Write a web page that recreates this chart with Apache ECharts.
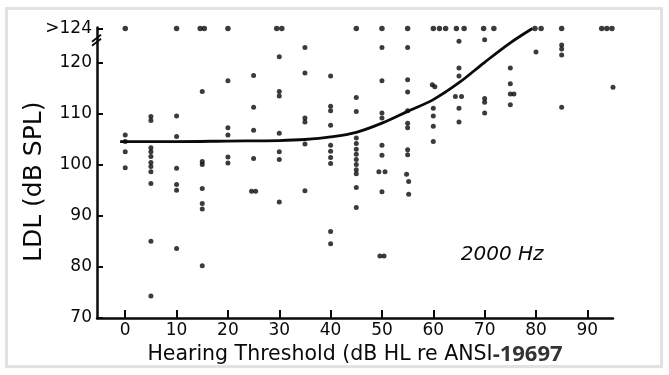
<!DOCTYPE html>
<html><head><meta charset="utf-8">
<script src="https://cdn.jsdelivr.net/npm/echarts@6/dist/echarts.min.js"></script>
<style>
html,body{margin:0;padding:0;background:#fff;}
#frame{position:absolute;left:5px;top:7px;width:658px;height:361px;border:3px solid #e2e2e2;box-sizing:border-box;}
#chart{position:absolute;left:0;top:0;width:669px;height:375px;}
</style></head><body>
<div id="frame"></div><div id="chart"></div>
<script>
// Tick values and labels
const xTickValues = [0, 10, 20, 30, 40, 50, 60, 70, 80, 90, 95];
const xTickLabels = ['0', '10', '20', '30', '40', '50', '60', '70', '80', '90', '>90'];
const yTickValues = [70, 80, 90, 100, 110, 120, 126.6];
const yTickLabels = ['70', '80', '90', '100', '110', '120', '>124'];

// ">124" responses (plotted on the top row)
const TOP = 126.6;
const topRowX = [0, 10, 14.6, 15.4, 20, 29.5, 30.5, 45, 50, 55, 60, 61.2, 62.4, 64.5, 66, 69.8, 71.8, 79.8, 81, 85, 92.8, 93.8, 94.8];

// Individual LDL points [hearing threshold, LDL]
const dotPoints = [
  [0,105.8],[0,104.5],[0,102.5],[0,99.4],
  [5,109.4],[5,108.6],[5,103.3],[5,102.5],[5,101.6],[5,100.4],[5,99.6],[5,98.6],[5,96.3],[5,85.0],[5,74.3],
  [10,109.5],[10,105.5],[10,99.3],[10,96.1],[10,95.0],[10,83.6],
  [15,114.3],[15,100.6],[15,100.0],[15,95.3],[15,92.4],[15,91.3],[15,80.2],
  [20,116.4],[20,107.2],[20,105.8],[20,101.5],[20,100.3],
  [25,117.4],[25,111.2],[25,106.7],[25,101.2],[24.6,94.8],[25.4,94.8],
  [30,121.1],[30,114.3],[30,113.4],[30,106.1],[30,102.5],[30,101.0],[30,92.7],
  [35,122.9],[35,117.9],[35,109.1],[35,108.3],[35,104.0],[35,94.9],
  [40,117.3],[40,111.4],[40,110.5],[40,107.7],[40,103.8],[40,102.6],[40,101.4],[40,100.2],[40,86.9],[40,84.5],
  [45,113.1],[45,110.4],[45,105.2],[45,104.1],[45,103.0],[45,102.0],[45,101.0],[45,100.0],[45,99.0],[45,98.2],[45,95.5],[45,91.6],
  [50,122.9],[50,116.4],[50,110.1],[50,109.1],[50,103.8],[50,101.8],[49.4,98.6],[50.6,98.6],[50,94.7],[49.6,82.1],[50.4,82.1],
  [55,122.9],[55,116.6],[55,114.2],[55,110.5],[55,108.1],[55,107.2],[55,102.9],[55,101.9],[54.8,98.1],[55.2,96.7],[55.2,94.2],
  [59.8,115.6],[60.3,115.2],[60,111.0],[60,109.5],[60,107.5],[60,104.5],
  [65,124.1],[65,118.9],[65,117.3],[64.3,113.3],[65.5,113.3],[65,111.0],[65,108.3],
  [70,124.4],[70,112.9],[70,112.2],[70,110.1],
  [75,118.9],[75,115.8],[75,113.8],[75.7,113.8],[75,111.7],
  [80,122.0],
  [85,123.4],[85,122.6],[85,121.4],[85,111.2],
  [95,115.1]
];

// Fitted curve
const curvePoints = [
  [-1,104.5],[10,104.5],[20,104.6],[30,104.7],[35,104.9],[40,105.4],[45,106.3],[50,108.1],
  [55,110.4],[60,112.7],[65,116.0],[70,120.0],[75,123.8],[79.3,126.6]
];

const topPoints = topRowX.map(x => [x, TOP]);

const chart = echarts.init(document.getElementById('chart'), null, {renderer: 'canvas'});
const ink = '#0a0a0a';
const option = {
  backgroundColor: 'transparent',
  animation: false,
  grid: {left: 97, right: 56, top: 27.5, bottom: 57, containLabel: false},
  xAxis: {
    type: 'value', min: -5.5, max: 95,
    name: '{a|Hearing Threshold (dB HL re ANSI}{b|-19697}',
    nameLocation: 'middle', nameGap: 26, nameMoveOverlap: false,
    nameTextStyle: {
      rich: {
        a: {fontFamily: 'DejaVu Sans', fontSize: 20.5, color: ink},
        b: {fontFamily: 'Open Sans', fontWeight: 'bold', fontSize: 22, color: '#333'}
      }
    },
    axisLine: {show: true, onZero: false, lineStyle: {color: ink, width: 2.5}},
    axisTick: {show: true, inside: false, length: -8, customValues: xTickValues, lineStyle: {color: ink, width: 2}},
    axisLabel: {
      customValues: xTickValues, margin: 4,
      fontFamily: 'DejaVu Sans', fontSize: 17, color: ink,
      formatter: v => xTickLabels[xTickValues.indexOf(v)]
    },
    splitLine: {show: false}
  },
  yAxis: {
    type: 'value', min: 70, max: 126.8,
    name: 'LDL (dB SPL)', nameLocation: 'middle', nameRotate: 90, nameGap: 50, nameMoveOverlap: false,
    nameTextStyle: {fontFamily: 'DejaVu Sans', fontSize: 25, color: ink, padding: [0, 18, 0, 0]},
    axisLine: {show: true, onZero: false, lineStyle: {color: ink, width: 2.5}},
    axisTick: {show: true, inside: false, length: -6, customValues: yTickValues, lineStyle: {color: ink, width: 2}},
    axisLabel: {
      customValues: yTickValues, margin: 5,
      fontFamily: 'DejaVu Sans', fontSize: 17, color: ink,
      formatter: v => yTickLabels[yTickValues.indexOf(v)]
    },
    splitLine: {show: false}
  },
  series: [
    {
      type: 'line', data: curvePoints, smooth: 0.35, showSymbol: false, clip: false,
      lineStyle: {color: ink, width: 2.8}, z: 3
    },
    {
      type: 'scatter', data: dotPoints, symbolSize: 5, clip: false,
      itemStyle: {color: ink}, z: 4
    },
    {
      type: 'scatter', data: topPoints, symbolSize: 5.5, clip: false,
      itemStyle: {color: ink}, z: 4
    }
  ]
};
chart.setOption(option);

// "2000 Hz" annotation and y-axis break marks
const ann = chart.convertToPixel({gridIndex: 0}, [73.4, 82.4]);
const brk = chart.convertToPixel({gridIndex: 0}, [-5.5, 124.0]);
chart.setOption({
  graphic: [
    {type: 'text', x: ann[0], y: ann[1], style: {text: '2000 Hz', font: 'italic 20px "DejaVu Sans"', fill: ink, align: 'center', verticalAlign: 'middle'}},
    {type: 'line', shape: {x1: brk[0] - 5, y1: brk[1] + 4, x2: brk[0] + 4, y2: brk[1] - 3}, style: {stroke: ink, lineWidth: 1.8}},
    {type: 'line', shape: {x1: brk[0] - 5, y1: brk[1] + 0, x2: brk[0] + 4, y2: brk[1] - 7}, style: {stroke: ink, lineWidth: 1.8}}
  ]
});
</script>
</body></html>
